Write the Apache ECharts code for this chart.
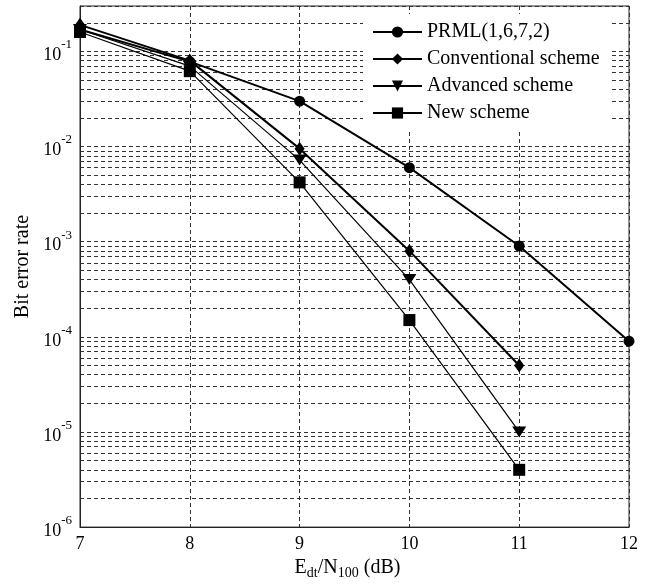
<!DOCTYPE html>
<html>
<head>
<meta charset="utf-8">
<script src="https://cdn.jsdelivr.net/npm/echarts@6/dist/echarts.min.js"></script>
<style>
	html, body {margin: 0; padding: 0; background: #fff;}
	#chart {width: 660px; height: 585px;}
</style>
</head>
<body>
<div id="chart"></div>
<script>
	// Eb/N0 values (dB)
	var snr = [7, 8, 9, 10, 11, 12];
	// bit error rates
	var prml = [0.17, 0.078, 0.03, 0.006, 0.0009, 0.00009];
	var conventional = [0.19, 0.08, 0.0095, 0.0008, 0.00005];
	var advanced = [0.17, 0.07, 0.0072, 0.0004, 0.00001];
	var newScheme = [0.16, 0.062, 0.0042, 0.00015, 0.000004];
	var names = ['PRML(1,6,7,2)', 'Conventional scheme', 'Advanced scheme', 'New scheme'];

	// minor grid lines of the log axis (2..9 in every decade)
	var decades = [1e-6, 1e-5, 1e-4, 1e-3, 1e-2];
	var mantissas = [2, 3, 4, 5, 6, 7, 8, 9];
	var minorValues = [0.2];
	for (var d = 0; d < decades.length; d++) {
		for (var m = 0; m < mantissas.length; m++) {
			minorValues.push(mantissas[m] * decades[d]);
		}
	}
	var minorLines = [];
	for (var k = 0; k < minorValues.length; k++) {
		minorLines.push([{coord: [snr[0], minorValues[k]]}, {coord: [snr[snr.length - 1], minorValues[k]]}]);
	}

	var font = 'Liberation Serif';
	var gridLine = {color: '#333', width: 1, type: [4, 3]};

	function pairs(vals) {
		var out = [];
		for (var i = 0; i < vals.length; i++) {
			out.push([snr[i], vals[i]]);
		}
		return out;
	}

	function makeSeries(name, vals, symbol, size, width, rotate) {
		return {
			name: name,
			type: 'line',
			data: pairs(vals),
			symbol: symbol,
			symbolSize: size,
			symbolRotate: rotate || 0,
			showAllSymbol: true,
			lineStyle: {color: '#000', width: width},
			itemStyle: {color: '#000', borderColor: '#000', borderWidth: 0},
			z: 3
		};
	}

	var series = [
		makeSeries(names[0], prml, 'circle', 11, 2),
		makeSeries(names[1], conventional, 'diamond', [10, 14], 2),
		makeSeries(names[2], advanced, 'triangle', [14, 11], 1.2, 180),
		makeSeries(names[3], newScheme, 'rect', 12, 1.2)
	];
	series[0].markLine = {
		silent: true,
		z: 1,
		symbol: 'none',
		label: {show: false},
		animation: false,
		lineStyle: gridLine,
		data: minorLines
	};

	var chart = echarts.init(document.getElementById('chart'));
	chart.setOption({
		animation: false,
		backgroundColor: '#fff',
		grid: {
			left: 80,
			right: 31,
			top: 6,
			bottom: 57,
			show: true,
			borderColor: '#222',
			borderWidth: 1
		},
		legend: {
			orient: 'vertical',
			left: 363,
			top: 14,
			z: 10,
			data: names,
			backgroundColor: '#fff',
			padding: [8, 11, 8, 9],
			itemWidth: 49,
			itemHeight: 14,
			itemGap: 7,
			textStyle: {fontFamily: font, fontSize: 20, lineHeight: 20, color: '#000'}
		},
		xAxis: {
			type: 'value',
			min: 7,
			max: 12,
			interval: 1,
			name: '{n|E}{sub|dt}{n|/N}{sub|100}{n| (dB)}',
			nameLocation: 'middle',
			nameGap: 21,
			nameTextStyle: {
				padding: [0, 14, 0, 0],
				rich: {
					n: {fontFamily: font, fontSize: 20, color: '#000', lineHeight: 22},
					sub: {fontFamily: font, fontSize: 14, color: '#000', verticalAlign: 'bottom', padding: [10, 0, 0, 0]}
				}
			},
			axisLine: {show: true, lineStyle: {color: '#222'}},
			axisTick: {show: false},
			axisLabel: {fontFamily: font, fontSize: 18, color: '#000', margin: 8},
			splitLine: {show: true, lineStyle: gridLine}
		},
		yAxis: {
			type: 'log',
			logBase: 10,
			min: 1e-6,
			max: 0.3,
			interval: 1,
			name: 'Bit error rate',
			nameLocation: 'middle',
			nameGap: 46,
			nameTextStyle: {fontFamily: font, fontSize: 20, color: '#000'},
			axisLine: {show: true, lineStyle: {color: '#222'}},
			axisTick: {show: false},
			axisLabel: {
				margin: 8,
				formatter: function (v) {
					var e = Math.round(Math.log10(v));
					if (Math.abs(v - Math.pow(10, e)) / v > 0.01) {
						return '';
					}
					return '{b|10}{s|' + e + '}';
				},
				rich: {
					b: {fontFamily: font, fontSize: 18, color: '#000', padding: [8, 0, 0, 0]},
					s: {fontFamily: font, fontSize: 13, color: '#000', verticalAlign: 'top'}
				}
			},
			splitLine: {show: true, lineStyle: gridLine}
		},
		series: series
	});
</script>
</body>
</html>
